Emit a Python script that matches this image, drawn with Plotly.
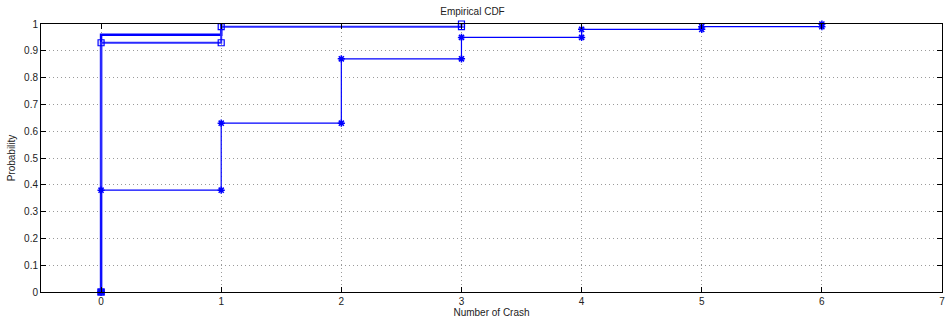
import plotly.graph_objects as go

# Empirical CDF step data (x = number of crashes, F = cumulative probability)
x_sq = [0, 0, 1, 3]
f_sq = [0, 0.93, 0.99, 1.0]

x_plain = [0, 0, 1]
f_plain = [0, 0.96, 1.0]

x_star = [0, 0, 1, 2, 3, 4, 5, 6]
f_star = [0, 0.38, 0.63, 0.87, 0.95, 0.98, 0.99, 1.0]

x_ticks = [0, 1, 2, 3, 4, 5, 6, 7]
y_ticks = [0, 0.1, 0.2, 0.3, 0.4, 0.5, 0.6, 0.7, 0.8, 0.9, 1]
y_labels = ["0", "0.1", "0.2", "0.3", "0.4", "0.5", "0.6", "0.7", "0.8", "0.9", "1"]


def stairs(xs, fs):
    """Vertices of a MATLAB-style stairs plot (horizontal then vertical)."""
    sx, sy = [xs[0]], [fs[0]]
    for i in range(1, len(xs)):
        sx += [xs[i], xs[i]]
        sy += [fs[i - 1], fs[i]]
    return sx, sy


fig = go.Figure()

sx, sy = stairs(x_plain, f_plain)
fig.add_trace(go.Scatter(x=sx, y=sy, mode="lines", cliponaxis=False,
                         line=dict(color="#0000ff", width=2.5)))

sx, sy = stairs(x_sq, f_sq)
fig.add_trace(go.Scatter(x=sx, y=sy, mode="lines+markers", cliponaxis=False,
                         line=dict(color="#2a2aff", width=2),
                         marker=dict(symbol="square-open", size=6,
                                     color="#0000ff", line=dict(width=1.2))))

sx, sy = stairs(x_star, f_star)
fig.add_trace(go.Scatter(x=sx, y=sy, mode="lines+markers", cliponaxis=False,
                         line=dict(color="#0000ff", width=1.2),
                         marker=dict(symbol="asterisk-open", size=6,
                                     color="#0000ff", line=dict(width=1.5, color="#0000ff"))))

axis_common = dict(
    showline=True, linecolor="black", linewidth=1, mirror="ticks",
    ticks="inside", ticklen=5, tickcolor="black",
    showgrid=True, gridcolor="#9a9a9a", griddash="1px,3px", gridwidth=1,
    zeroline=False, tickfont=dict(size=10, color="#222"),
    ticklabeloverflow="allow",
)

fig.update_xaxes(range=[-0.5, 7], tickvals=x_ticks,
                 title=dict(text="Number of Crash", font=dict(size=10, color="#222"), standoff=2),
                 **axis_common)
fig.update_yaxes(range=[0, 1], tickvals=y_ticks, ticktext=y_labels,
                 title=dict(text="Probability", font=dict(size=10, color="#222"), standoff=6),
                 **axis_common)

fig.update_layout(
    width=945, height=322,
    margin=dict(l=41, r=0, t=24, b=30),
    paper_bgcolor="white", plot_bgcolor="white",
    font=dict(family="Liberation Sans, Arial, sans-serif", size=10, color="#222"),
    showlegend=False,
    title=dict(text="Empirical CDF", x=0.5, xanchor="center", y=0.975, yanchor="top",
               font=dict(size=10, color="#222")),
)

fig.write_html("out.html")
